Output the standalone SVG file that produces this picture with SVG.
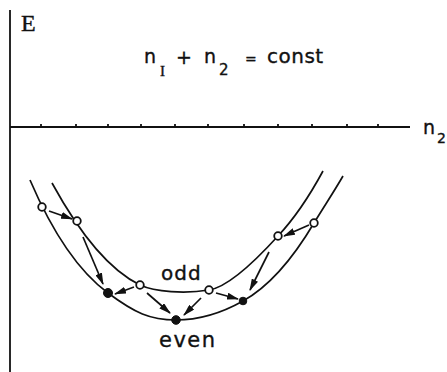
<svg xmlns="http://www.w3.org/2000/svg" width="447" height="372" viewBox="0 0 447 372">
<style>
.ax{stroke:#111;stroke-width:1.8;fill:none}
.cv{stroke:#111;stroke-width:1.7;fill:none}
.ar{stroke:#111;stroke-width:1.7;fill:none;marker-end:url(#ah)}
.open{fill:#fff;stroke:#111;stroke-width:1.8}
.full{fill:#111;stroke:#111;stroke-width:1}
.hw{font-family:"DejaVu Sans",sans-serif;fill:#111;stroke:#111;stroke-width:0.35}
.sr{font-family:"Liberation Serif",serif;fill:#111;stroke:#111;stroke-width:0.4}
</style>
<defs>
<marker id="ah" viewBox="0 0 12 7" refX="11" refY="3.5" markerWidth="12" markerHeight="7" markerUnits="userSpaceOnUse" orient="auto">
<path d="M0,0 L12,3.5 L0,7 z" fill="#111"/>
</marker>
</defs>
<g id="axes">
<path class="ax" d="M10,10 V372"/>
<path class="ax" d="M10,127 H410"/>
<path class="ax" d="M41,127 v-3 M76,127 v-3 M108,127 v-3 M141,127 v-3 M175,127 v-3 M208,127 v-3 M244,127 v-3 M278,127 v-3 M312,127 v-3 M347,127 v-3 M378,127 v-3"/>
<text class="sr" x="21" y="31" font-size="24">E</text>
<text class="hw" x="423" y="134" font-size="19">n</text>
<text class="hw" x="437" y="143" font-size="14">2</text>
</g>
<g id="title">
<text class="hw" x="144" y="63" font-size="19">n</text>
<text class="sr" x="160" y="76" font-size="15">I</text>
<text class="hw" x="176" y="64" font-size="19">+</text>
<text class="hw" x="204" y="63" font-size="19">n</text>
<text class="hw" x="219" y="75" font-size="15">2</text>
<text class="hw" x="245" y="64" font-size="14">=</text>
<text class="hw" x="267" y="63" font-size="20" letter-spacing="0.5">const</text>
</g>
<g id="even-curve">
<path class="cv" d="M30,180 C45,215 70,265 108,293 C135,313 150,320 176,320 C200,320 220,314 243,301 C270,286 295,255 314,223 C325,205 335,190 343,176"/>
<text class="hw" x="159" y="347" font-size="21" letter-spacing="1.5">even</text>
</g>
<g id="odd-curve">
<path class="cv" d="M52,183 C75,225 105,268 140,285 C155,292 185,294 209,290 C229,287 258,258 278,236 C293,220 310,195 323,171"/>
<text class="hw" x="161" y="280" font-size="20" letter-spacing="1">odd</text>
</g>
<g id="connectors">
<path class="ar" d="M49,211 L72,219"/>
<path class="ar" d="M83,237 L103,284"/>
<path class="ar" d="M134,287 L115,294"/>
<path class="ar" d="M147,293 L170,313"/>
<path class="ar" d="M201,298 L184,315"/>
<path class="ar" d="M216,293 L238,299"/>
<path class="ar" d="M269,252 L250,290"/>
<path class="ar" d="M309,225 L284,236"/>
</g>
<g id="points">
<circle class="open" cx="42" cy="207" r="3.8"/>
<circle class="open" cx="77" cy="221" r="3.8"/>
<circle class="open" cx="140" cy="285" r="3.8"/>
<circle class="open" cx="209" cy="290" r="3.8"/>
<circle class="open" cx="278" cy="236" r="3.8"/>
<circle class="open" cx="314" cy="223" r="3.8"/>
<circle class="full" cx="108" cy="293" r="4.5"/>
<circle class="full" cx="176" cy="320" r="4.3"/>
<circle class="full" cx="243" cy="301" r="3.8"/>
</g>
</svg>
